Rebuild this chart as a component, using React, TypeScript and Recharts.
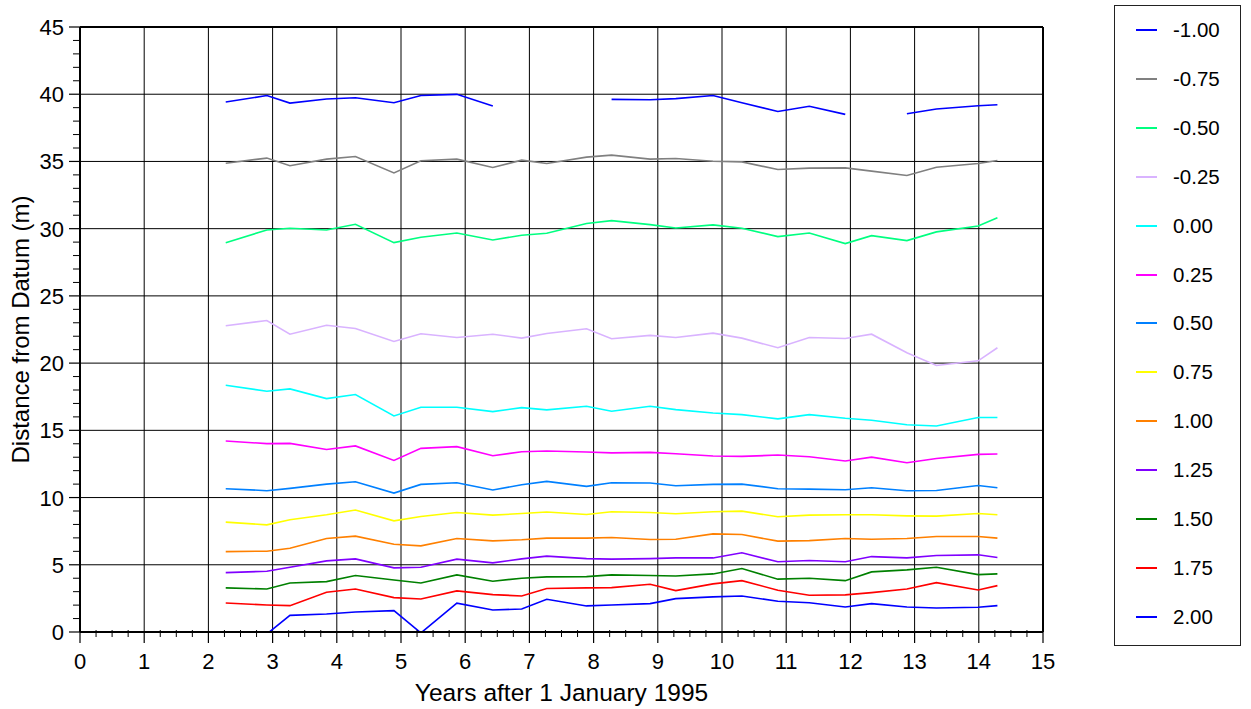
import React from 'react';
import { LineChart, Line, XAxis, YAxis, CartesianGrid, Legend, ReferenceLine } from 'recharts';

const years = [2.27, 2.91, 3.27, 3.84, 4.29, 4.89, 5.31, 5.87, 6.43, 6.88, 7.27, 7.89, 8.28, 8.88, 9.28, 9.86, 10.31, 10.87, 11.36, 11.92, 12.33, 12.88, 13.34, 13.99, 14.29];

const sM100 = [39.42, 39.9, 39.34, 39.64, 39.74, 39.37, 39.9, 39.99, 39.12, null, null, null, 39.62, 39.59, 39.67, 39.9, 39.37, 38.72, 39.1, 38.5, null, 38.55, 38.9, 39.14, 39.22];
const sM075 = [34.87, 35.25, 34.68, 35.17, 35.37, 34.15, 35.05, 35.17, 34.55, 35.1, 34.85, 35.32, 35.47, 35.17, 35.22, 35.02, 34.97, 34.4, 34.5, 34.52, 34.28, 33.96, 34.57, 34.85, 35.07];
const sM050 = [28.96, 29.9, 30.03, 29.9, 30.33, 28.96, 29.36, 29.68, 29.16, 29.51, 29.66, 30.38, 30.6, 30.3, 30.05, 30.28, 30.03, 29.41, 29.68, 28.89, 29.48, 29.11, 29.76, 30.2, 30.82];
const sM025 = [22.78, 23.17, 22.15, 22.82, 22.58, 21.61, 22.18, 21.91, 22.15, 21.86, 22.2, 22.55, 21.81, 22.06, 21.91, 22.23, 21.86, 21.14, 21.91, 21.83, 22.15, 20.77, 19.82, 20.17, 21.14];
const sP000 = [18.35, 17.91, 18.08, 17.36, 17.66, 16.07, 16.72, 16.72, 16.39, 16.69, 16.52, 16.79, 16.42, 16.79, 16.54, 16.29, 16.17, 15.85, 16.17, 15.9, 15.75, 15.42, 15.32, 15.95, 15.95];
const sP025 = [14.21, 14.01, 14.03, 13.58, 13.84, 12.76, 13.66, 13.79, 13.11, 13.41, 13.46, 13.39, 13.32, 13.36, 13.26, 13.09, 13.06, 13.16, 13.04, 12.72, 13.01, 12.59, 12.91, 13.21, 13.24];
const sP050 = [10.66, 10.51, 10.68, 11.0, 11.18, 10.33, 10.98, 11.1, 10.56, 10.95, 11.2, 10.83, 11.1, 11.08, 10.88, 10.98, 11.0, 10.66, 10.63, 10.58, 10.73, 10.51, 10.53, 10.9, 10.73];
const sP075 = [8.17, 7.97, 8.35, 8.72, 9.07, 8.27, 8.59, 8.89, 8.69, 8.81, 8.92, 8.74, 8.94, 8.89, 8.79, 8.94, 8.99, 8.57, 8.69, 8.72, 8.72, 8.64, 8.62, 8.81, 8.72];
const sP100 = [5.98, 6.01, 6.23, 6.95, 7.13, 6.53, 6.41, 6.95, 6.78, 6.86, 6.98, 6.98, 7.03, 6.88, 6.9, 7.3, 7.25, 6.76, 6.8, 6.95, 6.9, 6.95, 7.1, 7.1, 6.98];
const sP125 = [4.42, 4.52, 4.82, 5.29, 5.44, 4.77, 4.82, 5.42, 5.14, 5.44, 5.64, 5.46, 5.42, 5.46, 5.51, 5.51, 5.89, 5.22, 5.32, 5.22, 5.61, 5.51, 5.69, 5.74, 5.54];
const sP150 = [3.28, 3.2, 3.65, 3.75, 4.2, 3.87, 3.65, 4.25, 3.78, 4.0, 4.1, 4.12, 4.25, 4.2, 4.17, 4.32, 4.72, 3.93, 4.0, 3.82, 4.47, 4.62, 4.82, 4.27, 4.32];
const sP175 = [2.16, 2.01, 1.96, 2.96, 3.2, 2.56, 2.46, 3.06, 2.78, 2.68, 3.23, 3.28, 3.3, 3.55, 3.08, 3.58, 3.82, 3.11, 2.73, 2.76, 2.93, 3.2, 3.67, 3.13, 3.45];
const sP200 = [-0.15, -0.15, 1.24, 1.34, 1.49, 1.59, -0.07, 2.14, 1.64, 1.71, 2.43, 1.94, 2.01, 2.11, 2.48, 2.61, 2.68, 2.29, 2.18, 1.86, 2.11, 1.86, 1.79, 1.84, 1.96];

const seriesNames = ['-1.00', '-0.75', '-0.50', '-0.25', '0.00', '0.25', '0.50', '0.75', '1.00', '1.25', '1.50', '1.75', '2.00'];
const seriesValues = [sM100, sM075, sM050, sM025, sP000, sP025, sP050, sP075, sP100, sP125, sP150, sP175, sP200];
const seriesColors = ['#0000ff', '#808080', '#00ff80', '#d9b3ff', '#00ffff', '#ff00ff', '#0080ff', '#ffff00', '#ff8000', '#8000ff', '#008000', '#ff0000', '#0000ff'];

const xMajorTicks = [0, 1, 2, 3, 4, 5, 6, 7, 8, 9, 10, 11, 12, 13, 14, 15];
const yMajorTicks = [0, 5, 10, 15, 20, 25, 30, 35, 40, 45];
const xGridValues = [1, 2, 3, 4, 5, 6, 7, 8, 9, 10, 11, 12, 13, 14];
const yGridValues = [5, 10, 15, 20, 25, 30, 35, 40];

const xTicks: number[] = [];
for (let i = 0; i <= 60; i++) xTicks.push(i / 4);
const yTicks: number[] = [];
for (let i = 0; i <= 45; i++) yTicks.push(i);

const data = years.map((t, i) => {
  const row: any = { t };
  seriesNames.forEach((n, k) => {
    row[n] = seriesValues[k][i];
  });
  return row;
});

const FONT = '"Liberation Sans", Arial, Helvetica, sans-serif';

const XTick = (props: any) => {
  const { x, y, payload } = props;
  const v = payload.value;
  const major = xMajorTicks.includes(v);
  return (
    <g>
      {major ? (
        <line x1={x} x2={x} y1={y} y2={y + 11} stroke="#000" strokeWidth={1.2} />
      ) : (
        <line x1={x} x2={x} y1={y - 2} y2={y + 5} stroke="#000" strokeWidth={1} />
      )}
      {major && (
        <text x={x} y={y + 37} textAnchor="middle" fontSize={22} fontFamily={FONT} fill="#000">
          {String(v)}
        </text>
      )}
    </g>
  );
};

const YTick = (props: any) => {
  const { x, y, payload } = props;
  const v = payload.value;
  const major = yMajorTicks.includes(v);
  return (
    <g>
      {major ? (
        <line x1={x - 11} x2={x} y1={y} y2={y} stroke="#000" strokeWidth={1.2} />
      ) : (
        <line x1={x - 7} x2={x} y1={y} y2={y} stroke="#000" strokeWidth={1} />
      )}
      {major && (
        <text x={x - 16} y={y + 8} textAnchor="end" fontSize={22} fontFamily={FONT} fill="#000">
          {String(v)}
        </text>
      )}
    </g>
  );
};

const renderLegend = () => {
  return (
    <div
      style={{
        boxSizing: 'border-box',
        width: 127,
        height: 641,
        border: '1.5px solid #222',
        background: '#fff',
        position: 'relative',
        fontFamily: FONT,
      }}
    >
      {seriesNames.map((n, i) => (
        <div
          key={n}
          style={{
            position: 'absolute',
            left: 0,
            top: Math.round(24 + i * 48.9 - 12),
            height: 24,
            display: 'flex',
            alignItems: 'center',
          }}
        >
          <div style={{ marginLeft: 21, width: 21, height: 2, backgroundColor: seriesColors[i] }} />
          <span style={{ marginLeft: 16, fontSize: 20.5, color: '#000' }}>{n}</span>
        </div>
      ))}
    </div>
  );
};

export default function App() {
  return (
    <div style={{ position: 'absolute', left: 0, top: 0, width: 1251, height: 709, background: '#fff' }}>
      <LineChart
        width={1251}
        height={709}
        data={data}
        margin={{ top: 27, right: 208, left: 0, bottom: 0 }}
      >
        <CartesianGrid
          stroke="#000"
          strokeWidth={1}
          horizontalValues={yGridValues}
          verticalValues={xGridValues}
        />
        <ReferenceLine y={45} stroke="#000" strokeWidth={2} />
        <ReferenceLine x={15} stroke="#000" strokeWidth={2} />
        <XAxis
          dataKey="t"
          type="number"
          domain={[0, 15]}
          ticks={xTicks}
          interval={0}
          allowDataOverflow
          height={77}
          tickSize={0}
          tickMargin={0}
          tick={<XTick />}
          axisLine={{ stroke: '#000', strokeWidth: 2 }}
          label={{ value: 'Years after 1 January 1995', position: 'insideBottom', offset: 8, fontSize: 24.5, fontFamily: FONT, fill: '#000' }}
        />
        <YAxis
          type="number"
          domain={[0, 45]}
          ticks={yTicks}
          interval={0}
          allowDataOverflow
          width={80}
          tickSize={0}
          tickMargin={0}
          tick={<YTick />}
          axisLine={{ stroke: '#000', strokeWidth: 2 }}
          label={{ value: 'Distance from Datum (m)', angle: -90, position: 'center', dx: -20, fontSize: 24, fontFamily: FONT, fill: '#000' }}
        />
        {seriesNames.map((n, k) => (
          <Line
            key={n}
            dataKey={n}
            name={n}
            stroke={seriesColors[k]}
            strokeWidth={1.6}
            dot={false}
            activeDot={false}
            connectNulls={false}
            isAnimationActive={false}
            type="linear"
          />
        ))}
        <Legend
          layout="vertical"
          align="center"
          verticalAlign="middle"
          content={renderLegend}
          wrapperStyle={{ left: 1114, top: 5, width: 127, height: 641 }}
        />
      </LineChart>
    </div>
  );
}
